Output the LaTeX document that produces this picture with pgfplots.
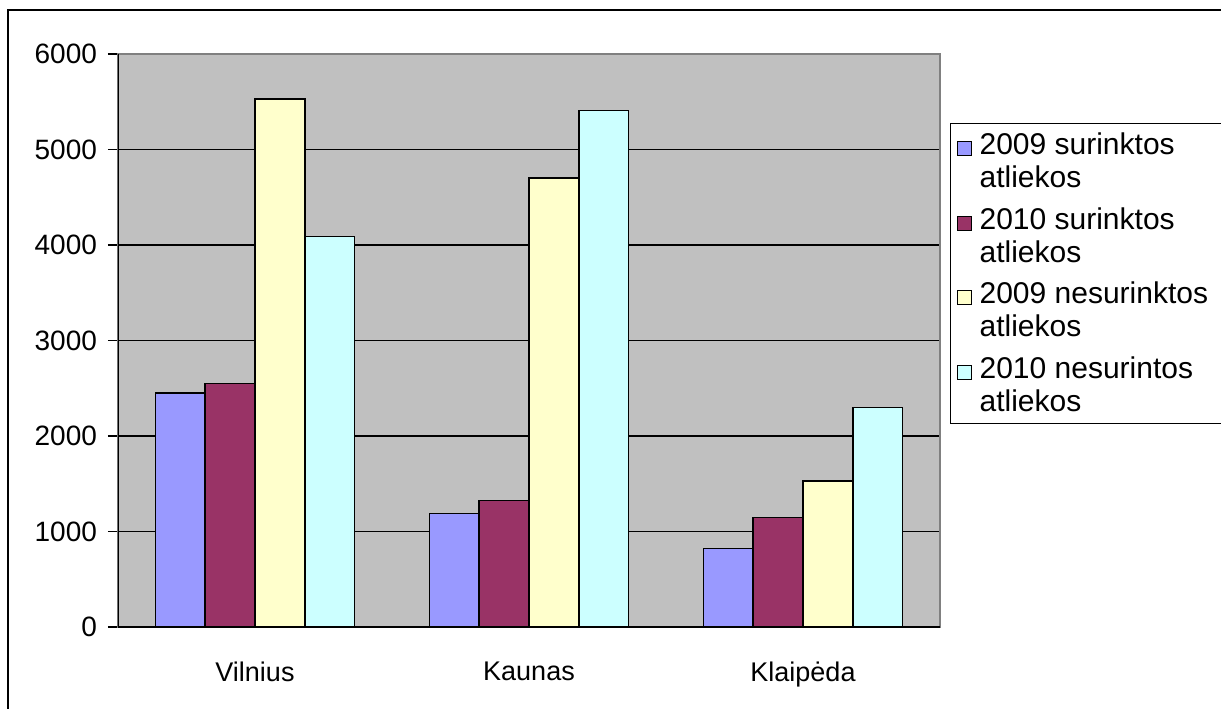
\documentclass[border=0pt]{standalone}
\usepackage{fontspec}
\setmainfont{Liberation Sans}
\usepackage{pgfplots}
\usepackage{pgfplotstable}
\pgfplotsset{compat=1.18}
\definecolor{cA}{HTML}{9999FF}
\definecolor{cB}{HTML}{993366}
\definecolor{cC}{HTML}{FFFFCC}
\definecolor{cD}{HTML}{CCFFFF}
\definecolor{plotbg}{HTML}{C0C0C0}
\definecolor{plotborder}{HTML}{808080}
\pgfplotstableread{
cat s09 s10 n09 n10
0 2450 2550 5530 4090
1 1190 1325 4700 5410
2 820 1145 1530 2300
}\datatable
\begin{document}
\begin{tikzpicture}
\useasboundingbox (0,0) rectangle (610.5pt,354pt);
\draw[black, line width=1pt] (4pt,349pt) rectangle (620pt,-10pt);
\begin{axis}[
  at={(59pt,40.5pt)}, anchor=south west,
  scale only axis, width=411pt, height=286.5pt,
  font=\fontsize{13.5}{15}\selectfont,
  /pgf/number format/assume math mode=true,
  ybar=0pt, bar width=0.1818,
  xmin=-0.5, xmax=2.5, ymin=0, ymax=6000,
  xtick={0,1,2}, xticklabels={Vilnius,Kaunas,Klaipėda},
  x tick style={draw=none},
  xtick pos=bottom, ytick pos=left,
  extra x ticks={-0.5,0.5,1.5,2.5}, extra x tick labels={},
  extra x tick style={tick align=outside, major tick length=5pt, tick style={draw=black, line width=0.6pt}, grid=none},
  ytick={0,1000,...,6000},
  yticklabel style={/pgf/number format/1000 sep={}, font=\fontsize{14}{15}\selectfont},
  scaled y ticks=false,
  tick align=outside, major tick length=5pt,
  y tick style={draw=black, line width=0.6pt},
  ymajorgrids, grid style={black, line width=0.75pt},
  axis background/.style={fill=plotbg},
  axis line style={draw=plotborder, line width=1pt},
  xticklabel style={yshift=-9pt},
  yticklabel style={xshift=-2pt},
  legend cell align=left,
  legend style={at={(1.0122,0.8796)}, anchor=north west, draw=black, line width=0.6pt,
    font=\fontsize{15}{16.5}\selectfont,
    cells={align=left}, row sep=4.5pt, inner xsep=3pt, inner ysep=2.5pt,
    nodes={inner xsep=4pt}},
  legend image code/.code={\draw[#1, line width=0.5pt] (0pt,3pt) rectangle (7pt,10pt);},
  every axis plot/.append style={draw=black, line width=0.75pt},
]
\addplot[fill=cA] table[x=cat,y=s09] {\datatable};
\addplot[fill=cB] table[x=cat,y=s10] {\datatable};
\addplot[fill=cC] table[x=cat,y=n09] {\datatable};
\addplot[fill=cD] table[x=cat,y=n10] {\datatable};
\legend{2009 surinktos\\atliekos, 2010 surinktos\\atliekos, 2009 nesurinktos\\atliekos, 2010 nesurintos\\atliekos}
\draw[black, line width=1pt] (rel axis cs:0,0) -- (rel axis cs:1,0);
\draw[black, line width=1pt] (rel axis cs:0,0) -- (rel axis cs:0,1);
\end{axis}
\end{tikzpicture}
\end{document}
